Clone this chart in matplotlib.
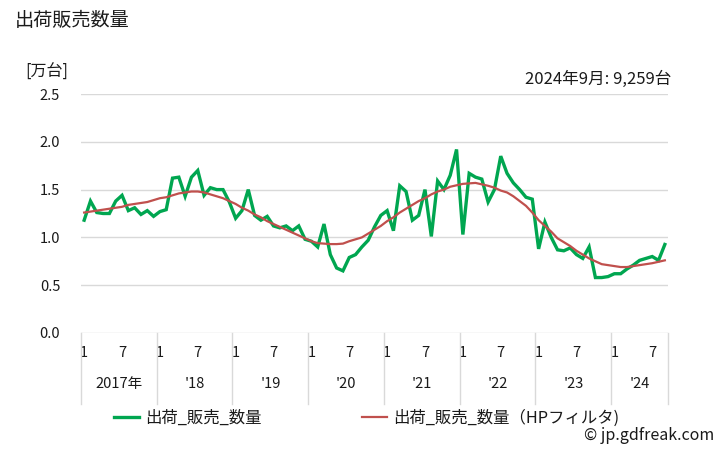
import matplotlib
matplotlib.use("Agg")
import matplotlib.pyplot as plt
from matplotlib.lines import Line2D
from matplotlib.transforms import blended_transform_factory
import numpy as np

plt.rcParams['font.family'] = ['Noto Sans CJK JP', 'DejaVu Sans']

# ---- data (万台), monthly 2017-01 .. 2024-09 ----
years = ["2017年", "'18", "'19", "'20", "'21", "'22", "'23", "'24"]
months_per_year = [12, 12, 12, 12, 12, 12, 12, 9]

sales = [
    1.18, 1.38, 1.26, 1.25, 1.25, 1.38, 1.44, 1.28, 1.31, 1.24, 1.28, 1.22,  # 2017
    1.27, 1.29, 1.62, 1.63, 1.43, 1.63, 1.70, 1.44, 1.52, 1.50, 1.50, 1.37,  # 2018
    1.20, 1.28, 1.50, 1.23, 1.18, 1.22, 1.12, 1.10, 1.12, 1.07, 1.12, 0.98,  # 2019
    0.96, 0.90, 1.14, 0.82, 0.68, 0.65, 0.79, 0.82, 0.90, 0.97, 1.11, 1.23,  # 2020
    1.28, 1.07, 1.54, 1.48, 1.18, 1.23, 1.50, 1.01, 1.59, 1.50, 1.65, 1.92,  # 2021
    1.03, 1.67, 1.63, 1.61, 1.37, 1.50, 1.85, 1.67, 1.57, 1.50, 1.42, 1.40,  # 2022
    0.88, 1.16, 1.00, 0.87, 0.86, 0.89, 0.82, 0.78, 0.90, 0.58, 0.58, 0.59,  # 2023
    0.62, 0.62, 0.67, 0.71, 0.76, 0.78, 0.80, 0.76, 0.926,                   # 2024
]

hp_trend = [
    1.26, 1.27, 1.28, 1.29, 1.30, 1.31, 1.32, 1.34, 1.35, 1.36, 1.37, 1.39,
    1.41, 1.42, 1.44, 1.46, 1.47, 1.48, 1.48, 1.47, 1.45, 1.43, 1.41, 1.38,
    1.35, 1.31, 1.28, 1.24, 1.21, 1.17, 1.14, 1.11, 1.08, 1.05, 1.02, 0.99,
    0.96, 0.94, 0.935, 0.93, 0.93, 0.935, 0.96, 0.98, 1.00, 1.04, 1.08, 1.12,
    1.17, 1.21, 1.26, 1.30, 1.34, 1.38, 1.41, 1.45, 1.48, 1.50, 1.53, 1.545,
    1.56, 1.565, 1.57, 1.555, 1.54, 1.52, 1.49, 1.47, 1.43, 1.38, 1.33, 1.26,
    1.18, 1.12, 1.06, 0.99, 0.95, 0.91, 0.86, 0.82, 0.78, 0.75, 0.72, 0.71,
    0.70, 0.69, 0.69, 0.70, 0.71, 0.72, 0.73, 0.745, 0.76,
]

y_ticks = [0.0, 0.5, 1.0, 1.5, 2.0, 2.5]
month_labels = ["1", "7"]

title = "出荷販売数量"
unit = "[万台]"
latest = "2024年9月: 9,259台"
label_sales = "出荷_販売_数量"
label_hp = "出荷_販売_数量（HPフィルタ)"
credit = "© jp.gdfreak.com"

GREEN = "#00A650"
RED = "#C0504D"
GRID = "#D9D9D9"
TXT = "#1a1a1a"

W, H = 728, 450
fig = plt.figure(figsize=(W / 100, H / 100), dpi=100)
ax = fig.add_axes([81 / W, 1 - 333 / H, (668 - 81) / W, (333 - 94) / H])

x = np.arange(len(sales))
ax.plot(x, sales, color=GREEN, lw=2.4, solid_joinstyle='miter', label=label_sales, zorder=3)
ax.plot(x, hp_trend, color=RED, lw=1.6, label=label_hp, zorder=4)

ax.set_xlim(-0.5, len(sales) - 0.5)
ax.set_ylim(0, 2.5)
ax.set_yticks(y_ticks)
ax.set_yticklabels([f"{v:.1f}" for v in y_ticks])
ax.yaxis.grid(True, color=GRID, lw=1.0)
ax.set_axisbelow(True)
for s in ax.spines.values():
    s.set_visible(False)
ax.tick_params(axis='y', length=0, pad=15, labelsize=10.5, labelcolor=TXT)
ax.set_xticks([])

# category axis: month labels, year labels, separators
trans = blended_transform_factory(ax.transData, fig.transFigure)
start = 0
bounds = [-0.5]
for yl, n in zip(years, months_per_year):
    for m, lab in zip([0, 6], month_labels):
        if m < n:
            ax.text(start + m, 1 - 353 / H, lab, transform=trans, ha='center', va='center',
                    fontsize=10.5, color=TXT)
    ax.text(start + (n - 1) / 2, 1 - 384 / H, yl, transform=trans, ha='center', va='center',
            fontsize=10.5, color=TXT)
    start += n
    bounds.append(start - 0.5)
for b in bounds:
    fig.add_artist(Line2D([b, b], [1 - 333 / H, 1 - 404 / H], transform=trans,
                          color=GRID, lw=1.0))

# texts
fig.text(15 / W, 1 - 21 / H, title, fontsize=13.8, va='center', ha='left', color=TXT)
fig.text(25 / W, 1 - 72 / H, unit, fontsize=11.5, va='center', ha='left', color=TXT)
fig.text(671 / W, 1 - 79 / H, latest, fontsize=12, va='center', ha='right', color=TXT)
fig.text(714 / W, 1 - 436 / H, credit, fontsize=11.5, va='center', ha='right', color=TXT)

fig.legend(loc='center left', bbox_to_anchor=(114 / W, 1 - 418 / H), ncol=2, frameon=False,
           fontsize=11.8, handlelength=1.55, handletextpad=0.35, columnspacing=6.1,
           borderpad=0, borderaxespad=0, labelcolor=TXT)

fig.savefig("out.png", dpi=100)
